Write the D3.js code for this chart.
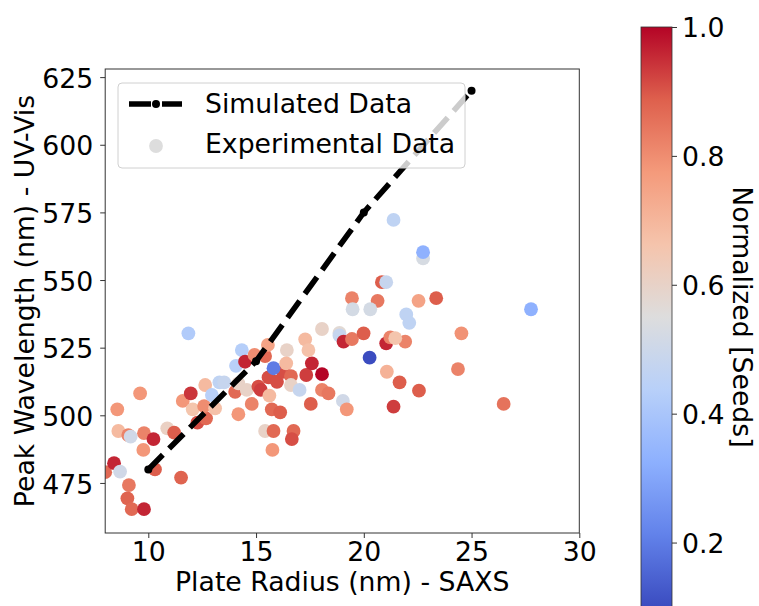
<!DOCTYPE html>
<meta charset="utf-8">
<script src="https://d3js.org/d3.v7.min.js"></script>
<style>
  body { margin: 0; background: #fff; }
  text { font-family: "DejaVu Sans", sans-serif; }
</style>
<div id="chart"></div>
<script>

// simulated curve
var simX = [10, 15, 20, 25];
var simY = [480, 520, 575, 620];

// experimental points: radius (nm), peak (nm), normalized seeds
var expX = [11.86, 8.0, 8.41, 8.69, 9.1, 9.03, 9.23, 9.8, 10.31, 11.52,
  8.56, 8.61, 9.07, 9.18, 9.62, 9.8, 10.24, 9.77, 10.88, 11.2,
  11.6, 11.97, 12.06, 12.28, 12.68, 12.59, 12.64, 12.95, 13.1, 13.3,
  13.52, 14.07, 14.34, 14.49, 14.03, 14.18, 14.57, 14.18, 14.8, 14.93,
  15.11, 15.22, 15.42, 15.55, 15.62, 15.42, 15.81, 15.76, 15.73, 16.12,
  15.58, 15.97, 16.25, 15.81, 16.43, 16.4, 16.62, 16.62, 17.02, 16.74,
  16.66, 17.33, 17.59, 18.06, 17.28, 17.43, 17.54, 18.06, 18.36, 18.06,
  18.87, 18.87, 19.06, 19.03, 19.21, 21.38, 22.75, 22.75, 20.84, 21.04,
  19.45, 19.48, 20.64, 20.3, 22.54, 23.36, 21.97, 22.11, 27.76, 24.53,
  19.45, 19.99, 21.04, 21.23, 21.92, 21.46, 20.27, 21.07, 21.66, 22.56,
  21.38, 24.37, 26.49];
var expY = [530.3, 479, 482.3, 479.2, 474.2, 469.3, 465.3, 465.3, 480, 477,
  502.2, 494.2, 492.7, 492.1, 508.1, 493.4, 491.2, 487.2, 495.2, 493.6,
  505.3, 508.1, 502.2, 497.3, 498.9, 503.4, 511.2, 507.5, 502.6, 512.2,
  512.2, 518.3, 524.1, 519.8, 508.7, 511.8, 509.4, 500.4, 504.2, 522.3,
  510.6, 509.4, 521.9, 526, 507.3, 494.2, 494.2, 487.2, 502.2, 501.1,
  514, 512.4, 516.1, 517.4, 524.1, 519.2, 514.5, 511.2, 509.4, 494.2,
  491.2, 514.9, 519.2, 515.2, 528.1, 524.1, 504.2, 509.4, 508.1, 531.9,
  530.5, 529.5, 527.2, 505.3, 502.2, 572.2, 558, 560.3, 549.2, 549.2,
  543.3, 539.2, 542.3, 539.2, 542.3, 543.3, 537.3, 534.2, 539.2, 530.3,
  528.2, 530.3, 526.6, 528.8, 527.2, 528.5, 521.3, 516.1, 512.2, 509.1,
  503.2, 517.1, 504.2];
var expC = [0.42, 0.87, 0.96, 0.51, 0.84, 0.88, 0.87, 0.96, 0.89, 0.88,
  0.78, 0.69, 0.82, 0.51, 0.78, 0.82, 0.96, 0.78, 0.61, 0.89,
  0.78, 0.94, 0.66, 0.91, 0.87, 0.8, 0.69, 0.44, 0.67, 0.46,
  0.48, 0.44, 0.43, 0.96, 0.87, 0.6, 0.6, 0.78, 0.82, 0.8,
  0.91, 0.93, 0.87, 0.75, 0.69, 0.6, 0.87, 0.78, 0.87, 0.89,
  0.91, 0.91, 0.91, 0.2, 0.6, 0.69, 0.87, 0.6, 0.48, 0.87,
  0.91, 0.93, 0.96, 1.0, 0.69, 0.67, 0.89, 0.82, 0.84, 0.6,
  0.57, 0.48, 0.96, 0.51, 0.78, 0.46, 0.53, 0.33, 0.89, 0.48,
  0.82, 0.52, 0.84, 0.52, 0.75, 0.89, 0.46, 0.46, 0.33, 0.79,
  0.84, 0.89, 0.96, 0.82, 0.82, 0.66, 0.1, 0.71, 0.89, 0.89,
  0.93, 0.82, 0.85];

var xTicks = [10, 15, 20, 25, 30];
var yTicks = [475, 500, 525, 550, 575, 600, 625];
var cTicks = [0.2, 0.4, 0.6, 0.8, 1.0];

// coolwarm colormap
var cmapStops = ["#3b4cc0", "#6282ea", "#8db0fe", "#b8d0f9", "#dddddd",
                 "#f5c4ac", "#f49a7b", "#de604d", "#b40426"];
var cMin = 0.1, cMax = 1.0;

var W = 759, H = 606, fs = 26.7;
var svg = d3.select("#chart").append("svg")
  .attr("width", W).attr("height", H);

var x = d3.scaleLinear().domain([8, 30]).range([105.2, 579.3]);
var y = d3.scaleLinear().domain([456.5, 628]).range([533, 69]);
var color = d3.scaleLinear()
  .domain(cmapStops.map(function(d, i) { return cMin + (cMax - cMin) * i / (cmapStops.length - 1); }))
  .range(cmapStops)
  .interpolate(d3.interpolateRgb);

svg.append("clipPath").attr("id", "clip")
  .append("rect")
    .attr("x", x(8)).attr("y", y(628))
    .attr("width", x(30) - x(8)).attr("height", y(456.5) - y(628));

var plot = svg.append("g").attr("clip-path", "url(#clip)");

// scatter
var pts = expX.map(function(d, i) { return {x: d, y: expY[i], c: expC[i]}; });
plot.selectAll("circle.pt").data(pts).enter().append("circle")
  .attr("class", "pt")
  .attr("cx", function(d) { return x(d.x); })
  .attr("cy", function(d) { return y(d.y); })
  .attr("r", 6.9)
  .attr("fill", function(d) { return color(d.c); });

// simulated line
var sim = simX.map(function(d, i) { return [d, simY[i]]; });
plot.append("path")
  .datum(sim)
  .attr("d", d3.line().x(function(d) { return x(d[0]); }).y(function(d) { return y(d[1]); }))
  .attr("fill", "none")
  .attr("stroke", "#000")
  .attr("stroke-width", 5.6)
  .attr("stroke-dasharray", "20.6,8.9");
plot.selectAll("circle.sim").data(sim).enter().append("circle")
  .attr("class", "sim")
  .attr("cx", function(d) { return x(d[0]); })
  .attr("cy", function(d) { return y(d[1]); })
  .attr("r", 4)
  .attr("fill", "#000");

// axes
var xAxis = svg.append("g")
  .attr("transform", "translate(0,533)")
  .call(d3.axisBottom(x).tickValues(xTicks).tickSize(5).tickPadding(4).tickSizeOuter(0));
var yAxis = svg.append("g")
  .attr("transform", "translate(105.2,0)")
  .call(d3.axisLeft(y).tickValues(yTicks).tickSize(5).tickPadding(7).tickSizeOuter(0));
[xAxis, yAxis].forEach(function(a) {
  a.select(".domain").remove();
  a.selectAll("line").attr("stroke", "#333");
  a.selectAll("text").attr("font-size", fs).attr("fill", "#000")
    .style("font-family", "DejaVu Sans");
});
yAxis.selectAll("text").attr("dy", "0.38em");

svg.append("rect")
  .attr("x", x(8)).attr("y", y(628))
  .attr("width", x(30) - x(8)).attr("height", y(456.5) - y(628))
  .attr("fill", "none").attr("stroke", "#333").attr("stroke-width", 1);

svg.append("text")
  .attr("x", (x(8) + x(30)) / 2).attr("y", 591)
  .attr("text-anchor", "middle").attr("font-size", fs)
  .text("Plate Radius (nm) - SAXS");
svg.append("text")
  .attr("transform", "translate(34," + (y(456.5) + y(628)) / 2 + ") rotate(-90)")
  .attr("text-anchor", "middle").attr("font-size", fs)
  .text("Peak Wavelength (nm) - UV-Vis");

// legend
var lg = svg.append("g");
lg.append("rect")
  .attr("x", 118).attr("y", 83).attr("width", 347).attr("height", 85)
  .attr("rx", 4).attr("fill", "#fff").attr("fill-opacity", 0.8)
  .attr("stroke", "#d0d0d0").attr("stroke-width", 1);
lg.append("line")
  .attr("x1", 129).attr("x2", 182).attr("y1", 104).attr("y2", 104)
  .attr("stroke", "#000").attr("stroke-width", 5.6)
  .attr("stroke-dasharray", "22,11");
lg.append("circle").attr("cx", 156).attr("cy", 104).attr("r", 4).attr("fill", "#000");
lg.append("circle").attr("cx", 156).attr("cy", 146).attr("r", 6.9).attr("fill", color(0.55));
lg.append("text").attr("x", 205).attr("y", 113).attr("font-size", fs).text("Simulated Data");
lg.append("text").attr("x", 205).attr("y", 153).attr("font-size", fs).text("Experimental Data");

// colorbar
var cb = d3.scaleLinear().domain([cMin, cMax]).range([607, 27]);
var grad = svg.append("defs").append("linearGradient")
  .attr("id", "cgrad").attr("x1", 0).attr("y1", 1).attr("x2", 0).attr("y2", 0);
cmapStops.forEach(function(s, i) {
  grad.append("stop").attr("offset", i / (cmapStops.length - 1)).attr("stop-color", s);
});
svg.append("rect")
  .attr("x", 641).attr("y", cb(cMax)).attr("width", 31).attr("height", cb(cMin) - cb(cMax))
  .attr("fill", "url(#cgrad)").attr("stroke", "#333").attr("stroke-width", 0.8);
var cAxis = svg.append("g")
  .attr("transform", "translate(672,0)")
  .call(d3.axisRight(cb).tickValues(cTicks).tickFormat(d3.format(".1f")).tickSize(5).tickPadding(5));
cAxis.select(".domain").remove();
cAxis.selectAll("line").attr("stroke", "#333");
cAxis.selectAll("text").attr("font-size", fs).attr("fill", "#000").attr("dy", "0.36em")
  .style("font-family", "DejaVu Sans");
svg.append("text")
  .attr("transform", "translate(733," + (cb(cMin) + cb(cMax)) / 2 + ") rotate(90)")
  .attr("text-anchor", "middle").attr("font-size", fs)
  .text("Normalized [Seeds]");

</script>
